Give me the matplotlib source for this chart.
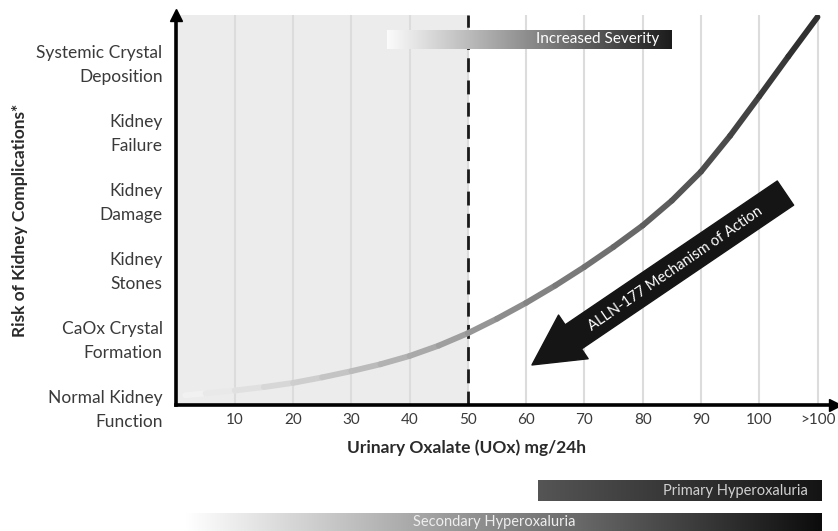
"""Risk of kidney complications vs urinary oxalate (UOx)"""

import numpy as np
import matplotlib.pyplot as plt
from matplotlib.collections import LineCollection
from matplotlib.colors import LinearSegmentedColormap
from matplotlib.patches import FancyArrowPatch


# ------------------ Data ------------------ #

# risk curve (x in mg/24h, y in risk levels)
uox = [1.5, 5, 10, 15, 20, 25, 30, 35, 40, 45, 50, 55, 60, 65, 70,
       75, 80, 85, 90, 95, 100, 105, 110]
risk = [0.14, 0.17, 0.21, 0.26, 0.32, 0.40, 0.49, 0.59, 0.71, 0.86, 1.04,
        1.25, 1.48, 1.73, 2.00, 2.29, 2.60, 2.96, 3.38, 3.90, 4.47, 5.05, 5.62]

xTicks = [10, 20, 30, 40, 50, 60, 70, 80, 90, 100, 110]
xTickLabels = ['10', '20', '30', '40', '50', '60', '70', '80', '90', '100', '>100']

yTicks = [0, 1, 2, 3, 4, 5]
yTickLabels = ['Normal Kidney\nFunction', 'CaOx Crystal\nFormation',
               'Kidney\nStones', 'Kidney\nDamage', 'Kidney\nFailure',
               'Systemic Crystal\nDeposition']

normalLimit = 50  # upper end of the shaded (normal) range

# gradient bands: (x start, x end, y bottom, y top)
severityBand = (36.1, 85.0, 5.16, 5.43)
primaryBand = (62.0, 110.7, -1.39, -1.10)
secondaryBand = (1.5, 110.7, -1.95, -1.57)

# mechanism of action arrow: tail -> tip
moaTail = (104.5, 3.07)
moaTip = (61.0, 0.58)


# ---------------- Settings ---------------- #

plt.rcParams['font.family'] = ['Lato', 'DejaVu Sans']
xLim = [0, 113]
yLim = [0, 5.65]
txtCol = '#3a3a3a'


# -------------- Visualization -------------- #

fig = plt.figure(figsize=(8.38, 5.31), dpi=100)
ax = fig.add_axes([0.2106, 0.2373, 0.7858, 0.7345])

# shaded normal range and vertical grid
ax.axvspan(0, normalLimit, color='#ececec', lw=0, zorder=0)
for xt in xTicks:
    ax.axvline(xt, color='#dcdcdc', lw=1.5, zorder=1)
ax.axvline(normalLimit, color='#1a1a1a', lw=2, ls=(0, (5, 3)), zorder=3)

# risk curve with light-to-dark gradient
pts = np.column_stack([uox, risk])
segs = np.stack([pts[:-1], pts[1:]], axis=1)
shade = [0.97 - 0.80 * (uox[i] + uox[i + 1]) / 2 / 110 for i in range(len(uox) - 1)]
lc = LineCollection(segs, colors=[(g, g, g) for g in shade], linewidths=4.2,
                    capstyle='round', joinstyle='round', zorder=4)
ax.add_collection(lc)


def band(ext, c0, c1, clip=True):
    cmap = LinearSegmentedColormap.from_list('band', [c0, c1])
    im = ax.imshow(np.linspace(0, 1, 256).reshape(1, -1), cmap=cmap,
                   extent=[ext[0], ext[1], ext[2], ext[3]], aspect='auto',
                   zorder=5)
    im.set_clip_on(clip)
    return im


band(severityBand, '#fbfbfb', '#1c1c1c')
ax.text(severityBand[1] - 2.2, (severityBand[2] + severityBand[3]) / 2,
        'Increased Severity', color='white', fontsize=11, ha='right',
        va='center', zorder=6)

band(primaryBand, '#555555', '#141414', clip=False)
ax.text(primaryBand[1] - 2.4, (primaryBand[2] + primaryBand[3]) / 2,
        'Primary Hyperoxaluria', color='#d0d0d0', fontsize=10.5, ha='right',
        va='center', clip_on=False, zorder=6)

band(secondaryBand, '#ffffff', '#0c0c0c', clip=False)
ax.text(54.6, -1.70, 'Secondary Hyperoxaluria', color='#eeeeee',
        fontsize=10.5, ha='center', va='center', clip_on=False, zorder=6)

# mechanism of action arrow
arr = FancyArrowPatch(moaTail, moaTip, shrinkA=0, shrinkB=0, mutation_scale=20,
                      arrowstyle='simple,head_length=1.8,head_width=1.9,tail_width=1.05',
                      color='#151515', zorder=7)
ax.add_patch(arr)
ax.text(85.6, 1.98, 'ALLN-177 Mechanism of Action', color='white',
        fontsize=10.5, rotation=34.5, rotation_mode='anchor', ha='center',
        va='center', zorder=8)

# axes with arrow heads
ax.set_xlim(xLim)
ax.set_ylim(yLim)
for s in ['top', 'right']:
    ax.spines[s].set_visible(False)
for s in ['left', 'bottom']:
    ax.spines[s].set_linewidth(2.6)
    ax.spines[s].set_color('black')
    ax.spines[s].set_zorder(9)
ax.plot(0, 1.0, marker='^', ms=8, color='black', transform=ax.transAxes,
        clip_on=False, zorder=10)
ax.plot(1.0, 0, marker='>', ms=8, color='black', transform=ax.transAxes,
        clip_on=False, zorder=10)

ax.set_xticks(xTicks)
ax.set_xticklabels(xTickLabels, fontsize=11, color=txtCol)
ax.set_yticks(yTicks)
ax.set_yticklabels(yTickLabels, fontsize=12.5, color=txtCol, linespacing=1.6)
ax.tick_params(axis='both', length=0)
ax.tick_params(axis='x', pad=6)
ax.tick_params(axis='y', pad=10)

fig.text(466 / 838, 1 - 448 / 531, 'Urinary Oxalate (UOx) mg/24h',
         fontsize=12.5, fontweight='bold', color='#2a2a2a', ha='center', va='center')
fig.text(20 / 838, 1 - 220 / 531, 'Risk of Kidney Complications*',
         fontsize=12.5, fontweight='bold', color='#2a2a2a', rotation=90,
         ha='center', va='center')

fig.savefig('out.png', dpi=100)
